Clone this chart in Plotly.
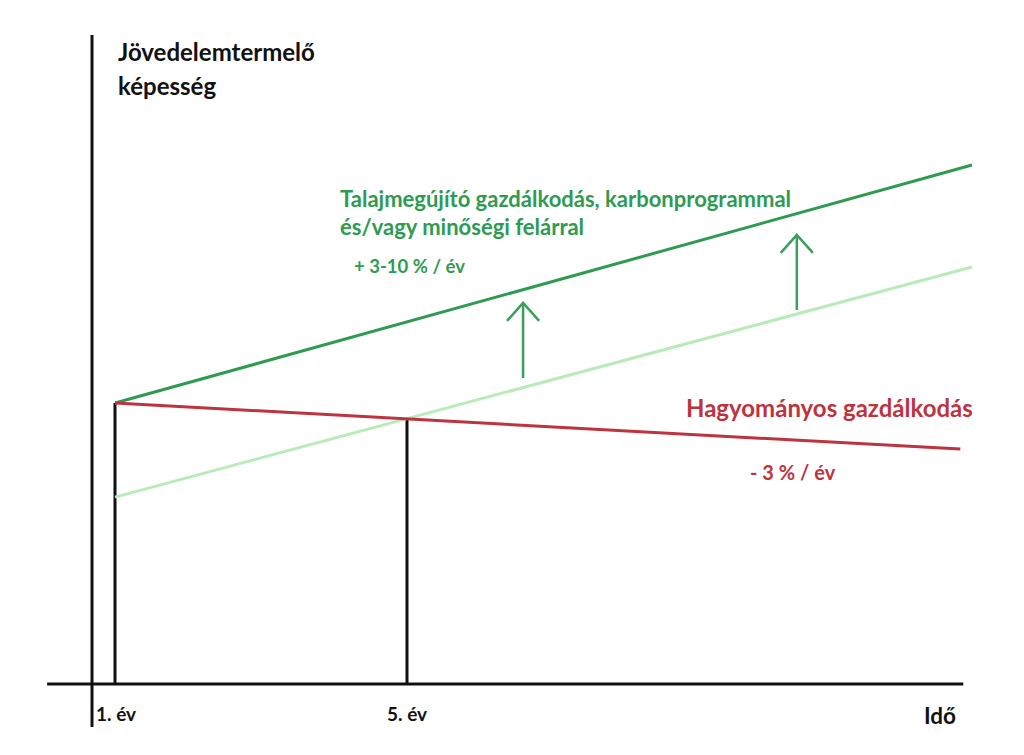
import plotly.graph_objects as go

# ---- data (years on x, relative income capacity on y; 1. év = 100) ----
line_years = [1, 12.74]
talaj_values = [100, 184.7]          # Talajmegújító gazdálkodás (dark green)
talaj_shift_values = [66.5, 148.4]   # shifted baseline (light green)
hagy_years = [1, 12.58]
hagy_values = [100, 83.6]            # Hagyományos gazdálkodás (red)

drop_years = [1, 5]
drop_values = [100, 94.3]

arrow_years = [6.59, 10.34]
arrow_from = [108.9, 133.1]
arrow_to = [135.6, 159.8]

tick_years = [1, 5]
tick_labels = ["1. év", "5. év"]

x_axis_span = [0.07, 12.62]
y_axis_x = 0.685
y_axis_span = [-15.3, 231.0]

DARK = "#2f9a52"
LIGHT = "#b9ebb9"
RED = "#bd3440"
BLACK = "#111111"
FONT = "Lato"

OFF = 8  # default page body margin
W, H = 1024 - OFF, 755 - OFF

fig = go.Figure()

# axes
fig.add_trace(go.Scatter(x=x_axis_span, y=[0, 0], mode="lines",
                         line=dict(color=BLACK, width=3), hoverinfo="skip"))
fig.add_trace(go.Scatter(x=[y_axis_x, y_axis_x], y=y_axis_span, mode="lines",
                         line=dict(color=BLACK, width=3), hoverinfo="skip"))

# drop lines
for xv, yv in zip(drop_years, drop_values):
    fig.add_trace(go.Scatter(x=[xv, xv], y=[0, yv], mode="lines",
                             line=dict(color=BLACK, width=3), hoverinfo="skip"))

# series lines
fig.add_trace(go.Scatter(x=line_years, y=talaj_shift_values, mode="lines",
                         line=dict(color=LIGHT, width=3), hoverinfo="skip"))
fig.add_trace(go.Scatter(x=line_years, y=talaj_values, mode="lines",
                         line=dict(color=DARK, width=3), hoverinfo="skip"))
fig.add_trace(go.Scatter(x=hagy_years, y=hagy_values, mode="lines",
                         line=dict(color=RED, width=3), hoverinfo="skip"))

# arrows
head_w = 0.22
head_h = 6.4
for xv, y0, y1 in zip(arrow_years, arrow_from, arrow_to):
    fig.add_trace(go.Scatter(
        x=[xv, xv, None, xv - head_w, xv, xv + head_w],
        y=[y0, y1, None, y1 - head_h, y1, y1 - head_h],
        mode="lines", line=dict(color="#3a9e5c", width=2.5), hoverinfo="skip"))


def ann(text, px, py, color=BLACK, size=18, xanchor="left"):
    fig.add_annotation(text=text, xref="paper", yref="paper",
                       x=(px - OFF) / W, y=1 - (py - OFF) / H,
                       xanchor=xanchor, yanchor="middle",
                       showarrow=False, align="left",
                       font=dict(family=FONT, size=size, color=color, weight="bold"))

ann("Jövedelemtermelő", 116, 52, size=24)
ann("képesség", 116, 86, size=24)
ann("Talajmegújító gazdálkodás, karbonprogrammal", 338, 198, color=DARK, size=22)
ann("és/vagy minőségi felárral", 338, 226, color=DARK, size=22)
ann("+ 3-10 % / év", 352, 266, color=DARK, size=18.5)
ann("Hagyományos gazdálkodás", 684, 407, color=RED, size=24)
ann("- 3 % / év", 748, 472, color=RED, size=20)
ann("Idő", 922, 715, size=22.5)

# tick labels through the x scale
for xv, lab in zip(tick_years, tick_labels):
    fig.add_annotation(text=lab, x=xv, y=0, xref="x", yref="y",
                       xanchor="center", yanchor="top", yshift=-16,
                       showarrow=False,
                       font=dict(family=FONT, size=19, color=BLACK, weight="bold"))
fig.layout.annotations[-2].update(xanchor="left", xshift=-21)

px_per_year = 73.0
px_per_unit = 2.81
x0_px, y0_px = 115 - OFF, 684 - OFF
fig.update_layout(
    width=W, height=H,
    margin=dict(l=0, r=0, t=0, b=0),
    paper_bgcolor="white", plot_bgcolor="white",
    showlegend=False,
    xaxis=dict(range=[1 - x0_px / px_per_year, 1 + (W - x0_px) / px_per_year],
               visible=False, fixedrange=True),
    yaxis=dict(range=[-(H - y0_px) / px_per_unit, y0_px / px_per_unit],
               visible=False, fixedrange=True),
)

fig.write_html("out.html")
